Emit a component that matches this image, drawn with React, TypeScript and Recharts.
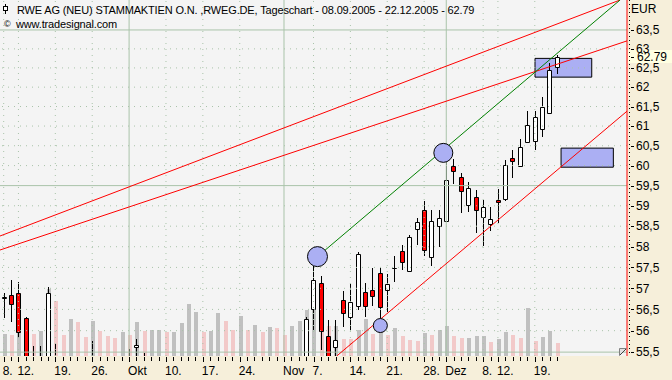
import React from "react";
import {
  Bar,
  CartesianGrid,
  ComposedChart,
  ReferenceArea,
  ReferenceDot,
  ReferenceLine,
  XAxis,
  YAxis,
} from "recharts";

// daily prices 08.09.2005 - 22.12.2005 (index = trading day)
const open = [
  56.74, 56.84, 56.88, 56.29, 55.25, 55.05, 55.1, 55.3, 55.0, 54.8,
  55.05, 54.7, 54.9, 55.3, 54.85, 54.6, 54.75, 55.15, 55.59, 55.3,
  54.95, 55.2, 55.0, 54.65, 54.9, 54.45, 53.9, 54.2, 53.95, 54.15,
  54.6, 54.1, 53.85, 54.3, 54.05, 54.55, 54.25, 54.7, 54.45, 54.6,
  54.95, 55.2, 56.49, 57.12, 55.88, 55.59, 56.72, 56.29, 56.56, 56.92,
  56.97, 57.37, 56.94, 57.47, 57.9, 57.39, 58.41, 58.9, 57.73, 58.49,
  58.59, 59.99, 59.71, 59.0, 59.21, 58.69, 58.52, 59.14, 59.14, 60.18,
  59.97, 60.56, 60.6, 60.9, 61.31, 62.49,
];
const high = [
  56.9, 57.2, 57.16, 56.33, 55.64, 55.64, 57.02, 55.69, 55.3, 55.2,
  55.25, 55.0, 55.75, 55.38, 55.1, 54.9, 55.3, 55.57, 55.8, 55.49,
  55.3, 55.35, 55.2, 55.05, 55.25, 54.7, 54.4, 54.5, 54.35, 54.8,
  54.75, 54.4, 54.5, 54.55, 54.7, 54.8, 54.9, 54.95, 54.8, 55.1,
  55.35, 56.31, 57.73, 57.3, 56.26, 56.26, 56.94, 57.1, 57.86, 57.12,
  57.49, 57.49, 57.34, 57.78, 58.04, 58.28, 58.69, 59.12, 58.9, 58.9,
  60.39, 60.16, 59.81, 59.59, 59.39, 59.14, 58.98, 59.42, 60.14, 60.39,
  60.67, 61.39, 61.39, 61.75, 62.64, 62.84,
];
const low = [
  56.29, 56.21, 55.82, 55.1, 54.9, 54.8, 55.0, 54.9, 54.6, 54.5,
  54.6, 54.4, 54.8, 54.7, 54.5, 54.3, 54.6, 54.9, 55.2, 54.8,
  54.7, 54.8, 54.5, 54.4, 54.3, 53.7, 53.6, 53.8, 53.7, 54.0,
  54.0, 53.7, 53.6, 53.9, 53.95, 54.1, 54.15, 54.3, 54.2, 54.5,
  54.8, 55.1, 56.02, 55.55, 55.2, 55.3, 56.09, 56.02, 56.49, 56.33,
  56.58, 56.26, 56.45, 57.16, 57.44, 57.39, 58.04, 57.78, 57.53, 58.0,
  58.59, 59.53, 58.82, 58.85, 58.34, 58.02, 58.39, 58.57, 59.12, 59.68,
  59.97, 60.56, 60.38, 60.72, 61.31, 62.33,
];
const close = [
  56.8, 56.6, 55.94, 55.2, 55.05, 55.1, 56.88, 55.0, 54.8, 55.05,
  54.7, 54.9, 55.3, 54.85, 54.6, 54.75, 55.15, 55.0, 55.67, 54.95,
  55.2, 55.0, 54.65, 54.9, 54.45, 53.9, 54.2, 53.95, 54.15, 54.6,
  54.1, 53.85, 54.3, 54.05, 54.55, 54.25, 54.7, 54.45, 54.6, 54.95,
  55.25, 56.27, 57.2, 55.98, 55.3, 55.78, 56.39, 56.68, 57.82, 56.56,
  56.79, 56.53, 57.1, 57.49, 57.6, 58.23, 58.59, 57.9, 58.63, 58.69,
  59.64, 59.83, 59.34, 59.44, 58.88, 58.96, 58.67, 59.06, 60.02, 60.08,
  60.46, 61.02, 61.22, 61.49, 62.45, 62.79,
];
// volume in million shares, 1 = grey bar, 0 = pink bar
const volume = [
  2.2, 2.1, 2.6, 2.8, 2.2, 2.5, 6.7, 5.5, 2.1, 3.7,
  3.4, 1.9, 3.5, 2.5, 2.0, 1.8, 2.4, 2.1, 3.4, 2.5,
  2.6, 2.6, 2.4, 2.4, 3.3, 5.2, 4.4, 2.4, 2.5, 4.3,
  3.5, 2.6, 4.0, 2.6, 3.1, 2.4, 2.9, 2.8, 2.1, 3.0,
  3.5, 4.6, 5.6, 4.0, 3.0, 3.0, 1.7, 1.7, 2.6, 3.7,
  2.2, 2.6, 2.1, 2.8, 2.0, 1.6, 1.5, 2.3, 2.1, 2.6,
  3.0, 2.0, 1.8, 1.8, 2.0, 2.0, 1.4, 1.7, 2.4, 2.1,
  1.8, 4.8, 1.5, 1.9, 2.5, 1.3,
];
const volumeUp = [
  1, 0, 1, 0, 0, 1, 1, 0, 0, 1,
  0, 0, 1, 0, 0, 0, 1, 0, 1, 0,
  1, 1, 0, 1, 1, 1, 1, 0, 1, 1,
  0, 0, 1, 0, 1, 0, 1, 0, 0, 1,
  1, 1, 1, 0, 0, 1, 0, 0, 1, 1,
  0, 1, 0, 1, 0, 0, 0, 1, 0, 1,
  1, 0, 0, 1, 1, 1, 0, 1, 1, 0,
  0, 1, 0, 1, 1, 0,
];

const dayLabels: Record<number, string> = {
  0: "8.", 2: "12.", 7: "19.", 12: "26.", 17: "Okt", 22: "10.", 27: "17.",
  32: "24.", 38: "Nov", 42: "7.", 47: "14.", 52: "21.", 57: "28.",
  60: "Dez", 65: "8.", 67: "12.", 72: "19.",
};
const monthStarts = [17, 38, 60];
const priceTicks = [
  55.5, 56, 56.5, 57, 57.5, 58, 58.5, 59, 59.5, 60, 60.5, 61, 61.5, 62,
  62.5, 63, 63.5,
];
const majorPrices = [55.5, 59.5, 63.5];
const lastPrice = 62.79;
const slotCount = 85; // trading days plus empty space on the right

// drawings: [day index, price]
const trendLines = [
  { a: [-0.5, 58.26], b: [83.56, 64.3], color: "#ff0000" },
  { a: [-0.5, 57.92], b: [84.5, 63.21], color: "#ff0000" },
  { a: [42.54, 57.76], b: [83.56, 64.3], color: "#008000" },
  { a: [45.15, 55.41], b: [84.5, 61.38], color: "#ff0000" },
];
const circles = [
  { x: 42.54, y: 57.76, r: 10 },
  { x: 59.6, y: 60.32, r: 9.5 },
  { x: 51.06, y: 56.12, r: 7 },
];
const boxes = [
  { x1: 72.03, x2: 79.72, y1: 62.26, y2: 62.75 },
  { x1: 75.56, x2: 82.65, y1: 59.96, y2: 60.44 },
];

const rows = Array.from({ length: slotCount }, (_, i) =>
  i < open.length
    ? { i, o: open[i], h: high[i], l: low[i], c: close[i], v: volume[i], up: volumeUp[i] }
    : { i }
);
const days = open.map((_, i) => i);

const FONT = "'Liberation Sans', Arial, sans-serif";
const GRID = "#a9c3a9";
const AXIS_TOP = 356; // top of the date strip

function Wick(props: any) {
  const { x, y, width, height, payload } = props;
  if (payload.o === undefined) return null;
  const c = Math.round(x + width / 2) + 0.5;
  return (
    <line x1={c} x2={c} y1={Math.round(y)} y2={Math.round(y + height)} stroke="#000" />
  );
}

function Body(props: any) {
  const { x, y, width, height, payload } = props;
  if (payload.o === undefined) return null;
  const c = Math.round(x + width / 2);
  const top = Math.round(Math.min(y, y + height)) + 0.5;
  const bot = Math.max(Math.round(Math.max(y, y + height)) - 0.5, top);
  const fill = payload.c < payload.o ? "#ff0000" : "#ffffff";
  return (
    <path
      d={`M${c - 1.5},${top}H${c + 2.5}V${bot}H${c - 1.5}Z`}
      fill={fill}
      stroke="#000"
    />
  );
}

function VolBar(props: any) {
  const { x, y, width, height, payload } = props;
  if (payload.v === undefined) return null;
  const c = Math.round(x + width / 2);
  const top = Math.round(y);
  return (
    <rect
      x={c - 1}
      y={top}
      width={4}
      height={Math.round(y + height) - top}
      fill={payload.up ? "#c0c0c0" : "#f2c9c9"}
    />
  );
}

function DayTick(props: any) {
  const { x, payload } = props;
  const i = payload.value;
  const label = dayLabels[i];
  const cx = Math.round(x) + 0.5;
  return (
    <g>
      <line
        x1={cx}
        x2={cx}
        y1={AXIS_TOP + 1}
        y2={AXIS_TOP + (label ? 6 : 5)}
        stroke="#000"
      />
      {label && (
        <text x={x - 1} y={AXIS_TOP + 19} fontSize={12} fontFamily={FONT} fill="#000">
          {label}
        </text>
      )}
    </g>
  );
}

function PriceTick(props: any) {
  const { x, y, payload } = props;
  const ly = Math.round(y) + 0.5;
  return (
    <g>
      <line x1={x + 4} x2={x + 7} y1={ly} y2={ly} stroke="#000" />
      <text x={x + 9} y={y} dy="0.36em" fontSize={12} fontFamily={FONT} fill="#000">
        {String(payload.value).replace(".", ",")}
      </text>
    </g>
  );
}

function LastPriceLabel(props: any) {
  const vb = props.viewBox || {};
  const x = (vb.x || 0) + (vb.width || 0);
  const y = vb.y || 0;
  return (
    <g>
      <rect x={x + 1} y={Math.round(y) - 7} width={45} height={13} fill="#ffffe1" />
      <line x1={x + 4} x2={x + 7} y1={Math.round(y) + 0.5} y2={Math.round(y) + 0.5} stroke="#000" />
      <text x={x + 10} y={y} dy="0.36em" fontSize={12} fontFamily={FONT} fill="#000">
        {lastPrice.toFixed(2)}
      </text>
    </g>
  );
}

export default function App() {
  return (
    <div
      style={{
        position: "absolute",
        left: 0,
        top: 0,
        width: 672,
        height: 380,
        background: "#f6efda",
        overflow: "hidden",
      }}
    >
      <ComposedChart
        width={672}
        height={380}
        data={rows}
        margin={{ top: 0, right: 0, bottom: 0, left: 0 }}
      >
        <XAxis
          xAxisId="main"
          dataKey="i"
          type="category"
          ticks={days}
          interval={0}
          height={24}
          tickSize={0}
          tickMargin={0}
          tick={<DayTick />}
          axisLine={{ stroke: "#ff0000" }}
        />
        <XAxis xAxisId="w" dataKey="i" type="category" hide />
        <XAxis xAxisId="b" dataKey="i" type="category" hide />
        <XAxis xAxisId="v" dataKey="i" type="category" hide />
        <XAxis
          xAxisId="t"
          dataKey="i"
          type="number"
          domain={[-0.5, slotCount - 0.5]}
          allowDataOverflow
          hide
        />
        <YAxis
          yAxisId="p"
          orientation="right"
          scale="log"
          domain={[55.41, 64.3]}
          allowDataOverflow
          ticks={priceTicks}
          interval={0}
          width={45}
          tickSize={0}
          tickMargin={0}
          tick={<PriceTick />}
          axisLine={{ stroke: "#ff0000" }}
        />
        <YAxis yAxisId="v" domain={[0, 35.6]} allowDataOverflow hide />

        <CartesianGrid
          xAxisId="t"
          yAxisId="p"
          horizontal={false}
          vertical={false}
          fill="#f4f4f4"
          fillOpacity={1}
        />

        {priceTicks.map((p) => (
          <ReferenceLine
            key={"h" + p}
            xAxisId="t"
            yAxisId="p"
            y={p}
            stroke={GRID}
            strokeDasharray={majorPrices.includes(p) ? undefined : "1 5"}
          />
        ))}
        {Object.keys(dayLabels).map((k) => {
          const i = Number(k);
          return (
            <ReferenceLine
              key={"v" + i}
              xAxisId="t"
              yAxisId="p"
              x={i}
              stroke={GRID}
              strokeDasharray={monthStarts.includes(i) ? undefined : "1 5"}
            />
          );
        })}

        {boxes.map((b, k) => (
          <ReferenceArea
            key={"b" + k}
            xAxisId="t"
            yAxisId="p"
            x1={b.x1}
            x2={b.x2}
            y1={b.y1}
            y2={b.y2}
            fill="#abaff3"
            fillOpacity={1}
            stroke="#000"
          />
        ))}
        {circles.map((c, k) => (
          <ReferenceDot
            key={"c" + k}
            xAxisId="t"
            yAxisId="p"
            x={c.x}
            y={c.y}
            r={c.r}
            fill="#abaff3"
            stroke="#000"
            ifOverflow="hidden"
          />
        ))}

        <Bar
          xAxisId="v"
          yAxisId="v"
          dataKey="v"
          barSize={5}
          shape={<VolBar />}
          isAnimationActive={false}
        />
        <Bar
          xAxisId="w"
          yAxisId="p"
          dataKey={(d: any) => (d.o === undefined ? null : [d.l, d.h])}
          barSize={5}
          shape={<Wick />}
          isAnimationActive={false}
        />
        <Bar
          xAxisId="b"
          yAxisId="p"
          dataKey={(d: any) =>
            d.o === undefined ? null : [Math.min(d.o, d.c), Math.max(d.o, d.c)]
          }
          barSize={5}
          shape={<Body />}
          isAnimationActive={false}
        />

        {trendLines.map((t, k) => (
          <ReferenceLine
            key={"t" + k}
            xAxisId="t"
            yAxisId="p"
            segment={[
              { x: t.a[0], y: t.a[1] },
              { x: t.b[0], y: t.b[1] },
            ]}
            stroke={t.color}
            ifOverflow="hidden"
          />
        ))}

        <ReferenceLine
          xAxisId="t"
          yAxisId="p"
          y={lastPrice}
          stroke="none"
          label={<LastPriceLabel />}
        />
      </ComposedChart>

      {/* minor ticks of the price scale */}
      <div
        style={{
          position: "absolute",
          left: 629,
          top: 0,
          width: 1,
          height: 356,
          background:
            "repeating-linear-gradient(to bottom, #000 0px, #000 1px, transparent 1px, transparent 4px)",
        }}
      />

      <svg
        width={672}
        height={380}
        style={{ position: "absolute", left: 0, top: 0, pointerEvents: "none" }}
      >
        <line x1={5.5} x2={5.5} y1={4} y2={14} stroke="#000" />
        <rect x={3.5} y={6.5} width={4} height={4} fill="#fff" stroke="#000" />
        <text x={17} y={14} fontSize={11} fontFamily={FONT} letterSpacing={-0.15} fill="#000">
          RWE AG (NEU) STAMMAKTIEN O.N. ,RWEG.DE, Tageschart - 08.09.2005 - 22.12.2005 - 62.79
        </text>
        <text x={4} y={27} fontSize={9} fontFamily={FONT} fill="#000">
          ©
        </text>
        <text x={16} y={28} fontSize={11} fontFamily={FONT} letterSpacing={-0.15} fill="#000">
          www.tradesignal.com
        </text>
        <text x={631} y={13} fontSize={12} fontFamily={FONT} fill="#000">
          EUR
        </text>
        <path d="M619.5,355.5V348.5H626.5Z" fill="#e0e0e0" stroke="#808080" />
        <line x1={620} x2={626} y1={355} y2={349} stroke="#404040" />
      </svg>
    </div>
  );
}
